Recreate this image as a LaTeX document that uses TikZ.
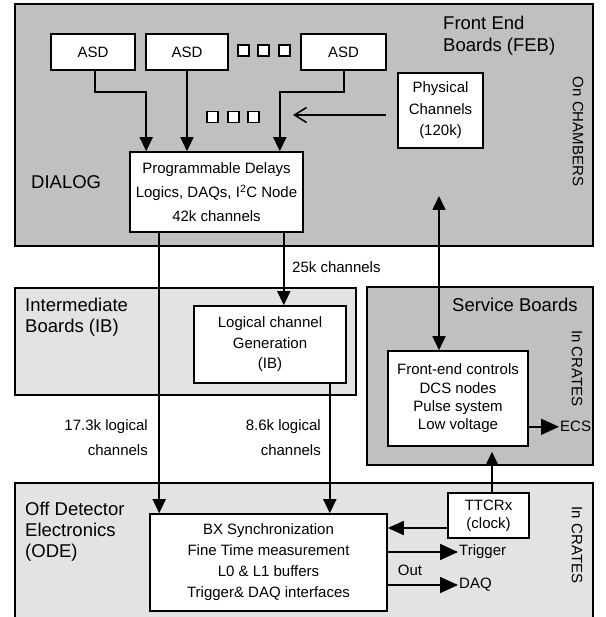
\documentclass[tikz,border=0pt]{standalone}
\usepackage{fontspec}
\setmainfont{Liberation Sans}
\usetikzlibrary{arrows.meta}
\definecolor{darkpanel}{HTML}{C0C0C0}
\definecolor{lightpanel}{HTML}{E3E3E3}
\begin{document}
\begin{tikzpicture}[x=1pt,y=-1pt,
  panel/.style={draw=black, line width=1.7pt},
  box/.style={draw=black, fill=white, line width=1.6pt, inner sep=0pt, align=center},
  arr/.style={line width=1.7pt, -{Triangle[length=14pt,width=13pt]}},
  arrmid/.style={line width=1.7pt, -{Triangle[length=16pt,width=14pt]}},
  arrbig/.style={line width=1.7pt, -{Triangle[length=18pt,width=16pt]}},
  dotbox/.style={draw=black, fill=white, line width=1.6pt, minimum width=11pt, minimum height=11pt, inner sep=0pt},
  lbl/.style={inner sep=1pt, font=\fontsize{15}{21}\selectfont},
  title/.style={inner sep=0pt, align=left, anchor=west},
]
\useasboundingbox (0,0) rectangle (605,617);
\clip (0,0) rectangle (605,617);
\fill[white] (0,0) rectangle (605,617);

% panels
\draw[panel, fill=darkpanel] (15,4) rectangle (593,246);
\draw[panel, fill=lightpanel] (15,288) rectangle (356,395);
\draw[panel, fill=darkpanel] (367,287) rectangle (593,465);
\draw[panel, fill=lightpanel] (15,483) rectangle (593,640);

% boxes
\node[box, font=\fontsize{15}{21}\selectfont, minimum width=84pt, minimum height=36pt] (asd1) at (93,52) {ASD};
\node[box, font=\fontsize{15}{21}\selectfont, minimum width=82pt, minimum height=36pt] (asd2) at (187,52) {ASD};
\node[box, font=\fontsize{15}{21}\selectfont, minimum width=85pt, minimum height=36pt] (asd3) at (343.5,52) {ASD};

\node[dotbox] (s1) at (243.5,50.5) {};
\node[dotbox] (s2) at (263.5,50.5) {};
\node[dotbox] (s3) at (284.5,50.5) {};
\node[dotbox] (s4) at (212.5,117) {};
\node[dotbox] (s5) at (233.5,117) {};
\node[dotbox] (s6) at (253.5,117) {};

\node[box, font=\fontsize{15}{21.5}\selectfont, minimum width=85pt, minimum height=75pt] (phys) at (440.5,110.5) {Physical\\Channels\\(120k)};
\node[box, font=\fontsize{15}{24}\selectfont, minimum width=173pt, minimum height=80pt] (prog) at (216.5,192) {Programmable Delays\\Logics, DAQs, I\textsuperscript{2}C Node\\42k channels};
\node[box, font=\fontsize{15}{20.5}\selectfont, minimum width=152pt, minimum height=77pt] (logic) at (270,344.5) {Logical channel\\Generation\\(IB)};
\node[box, font=\fontsize{15}{18.3}\selectfont, minimum width=140pt, minimum height=95pt] (fe) at (458,398.5) {Front-end controls\\DCS nodes\\Pulse system\\Low voltage};
\node[box, font=\fontsize{15}{18}\selectfont, minimum width=81pt, minimum height=45pt] (ttc) at (488.5,515.5) {TTCRx\\(clock)};
\node[box, font=\fontsize{15}{21}\selectfont, minimum width=237pt, minimum height=97pt] (ode) at (268.5,562.5) {BX Synchronization\\Fine Time measurement\\L0 \& L1 buffers\\Trigger\& DAQ interfaces};

% titles
\node[title, font=\fontsize{18.5}{22}\selectfont] (feb) at (443,36) {Front End\\Boards (FEB)};
\node[title, font=\fontsize{18.5}{22}\selectfont] (dialog) at (31,182) {DIALOG};
\node[title, font=\fontsize{18.5}{20.5}\selectfont] (ibt) at (25,317) {Intermediate\\Boards (IB)};
\node[title, font=\fontsize{18.5}{22}\selectfont] (sbt) at (452,305) {Service Boards};
\node[title, font=\fontsize{18.5}{21}\selectfont] (odet) at (25,532) {Off Detector\\Electronics\\(ODE)};

\node[lbl, rotate=-90, inner sep=0pt] (onch) at (578,131.5) {On CHAMBERS};
\node[lbl, rotate=-90, inner sep=0pt] (crs) at (577,368.5) {In CRATES};
\node[lbl, rotate=-90, inner sep=0pt] (cro) at (577,545) {In CRATES};

% labels
\node[lbl, anchor=west] (l25) at (291,267) {25k channels};
\node[lbl, align=right, anchor=east, font=\fontsize{15}{25}\selectfont] (l17) at (149,437.5) {17.3k logical\\channels};
\node[lbl, align=right, anchor=east, font=\fontsize{15}{25}\selectfont] (l86) at (322,437.5) {8.6k logical\\channels};
\node[lbl, anchor=west] (ecs) at (559,426) {ECS};
\node[lbl, anchor=west] (trig) at (458,552) {Trigger};
\node[lbl, anchor=west] (daq) at (458,585) {DAQ};
\node[lbl] (out) at (410,570) {Out};

% connectors
\draw[arr] ([xshift=2pt]asd1.south) -- ++(0,21) -| ([xshift=17pt]prog.north west);
\draw[arr] (asd2.south) -- (asd2.south |- prog.north);
\draw[arr] ([xshift=0.5pt]asd3.south) -- ++(0,21) -| ([xshift=-24pt]prog.north east);

\coordinate (barbstart) at ([xshift=-11pt,yshift=-4.5pt]phys.west);
\coordinate (barbend) at (293,115);
\draw[line width=1.6pt, -{Straight Barb[length=12pt,width=15pt]}] (barbstart) -- (barbend);

\coordinate (p1) at ([xshift=30pt]prog.south west);
\draw[arr] (p1) -- (p1 |- ode.north);
\coordinate (p2) at ([xshift=-20pt]prog.south east);
\draw[arr] (p2) -- (p2 |- logic.north);
\coordinate (p3) at ([xshift=-17pt]logic.south east);
\draw[arr] (p3) -- (p3 |- ode.north);

\coordinate (dtop) at (439,196);
\draw[line width=1.7pt, {Triangle[length=14pt,width=13pt]}-{Triangle[length=14pt,width=13pt]}] (dtop) -- (dtop |- fe.north);

\coordinate (e1) at ([yshift=20pt]fe.south east);
\draw[arrbig] (e1) -- (e1 -| ecs.west);

\coordinate (t1) at ([xshift=3.5pt]ttc.north);
\draw[arr, shorten >=5pt] (t1) -- (t1 |- fe.south);
\coordinate (t2) at ([yshift=-12.5pt]ttc.west);
\draw[arrmid] (t2) -- (t2 -| ode.east);

\coordinate (o1) at ([yshift=10.5pt]ode.east);
\draw[arrbig] (o1) -- (o1 -| trig.west);
\coordinate (o2) at ([yshift=-22.5pt]ode.east);
\draw[arrbig] (o2) -- (o2 -| daq.west);
\end{tikzpicture}
\end{document}
